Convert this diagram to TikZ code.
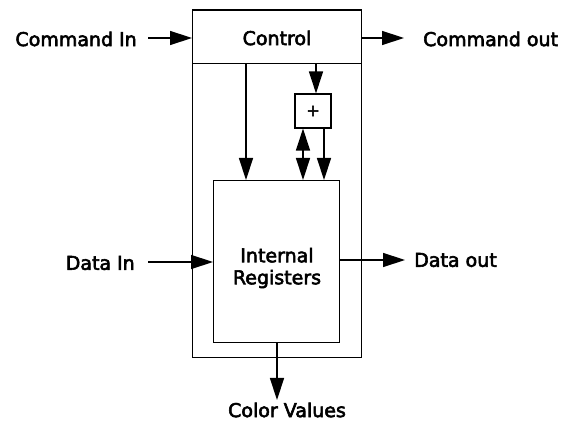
\documentclass[tikz,border=0pt]{standalone}
\usepackage{fontspec}
\newfontfamily\lblfont{DejaVu Sans}[FakeBold=3]
\usetikzlibrary{arrows.meta,calc}
\begin{document}
\begin{tikzpicture}[x=1pt,y=-1pt,
  lbl/.style={inner sep=0pt, font=\lblfont\fontsize{19}{22}\selectfont, align=center},
  boxx/.style={draw, line width=1.1pt, inner sep=0pt, anchor=north west},
  arr/.style={line width=1.4pt, -{Triangle[length=22pt,width=14pt]}},
  darr/.style={line width=1.4pt, {Triangle[length=22pt,width=14pt]}-{Triangle[length=22pt,width=14pt]}}]
\useasboundingbox (0,0) rectangle (565,427);
% boxes
\node[boxx, minimum width=169pt, minimum height=347.5pt] (outer) at (192,9.5) {};
\node[boxx, minimum width=169pt, minimum height=53.5pt] (ctrl) at (192,9.5) {};
\node[lbl] (ctrltxt) at (277,38) {Control};
\node[boxx, minimum width=126pt, minimum height=162pt] (reg) at (213,180) {};
\node[lbl] (regtxt) at (277,268) {Internal\\Registers};
\node[draw, line width=1.1pt, minimum width=36pt, minimum height=34pt, inner sep=0pt,
      font=\lblfont\fontsize{16}{16}\selectfont] (plus) at (313,111) {+};
% labels
\node[lbl, anchor=east] (cin) at (137,39) {Command In};
\node[lbl, anchor=west] (cout) at (423,39) {Command out};
\node[lbl, anchor=east] (din) at (135,263) {Data In};
\node[lbl, anchor=west] (dout) at (414,260) {Data out};
\node[lbl] (cv) at (287,410) {Color Values};
\coordinate (cvtip) at (277,400);
% connectors
\draw[arr] ($(cin.east)+(11,-1)$) -- ($(cin.east -| ctrl.west)+(0,-1)$);
\draw[arr] ($(cout.west -| ctrl.east)+(0,-1)$) -- ($(cout.west)+(-19,-1)$);
\draw[arr] ($(din.east)+(13,-1)$) -- ($(din.east -| reg.west)+(0,-1)$);
\draw[arr] (dout.west -| reg.east) -- ($(dout.west)+(-9,0)$);
\draw[arr] (reg.south -| cvtip) -- (cvtip);
\draw[arr] ($(ctrl.south west)+(54,0)$) -- ($(reg.north west)+(33,0)$);
\draw[arr] ($(plus.north |- ctrl.south)+(3,0)$) -- ($(plus.north)+(3,0)$);
\draw[arr] ($(plus.south)+(11,0)$) -- ($(plus.south |- reg.north)+(11,0)$);
\draw[darr] ($(plus.south)+(-10,0)$) -- ($(plus.south |- reg.north)+(-10,0)$);
\end{tikzpicture}
\end{document}
